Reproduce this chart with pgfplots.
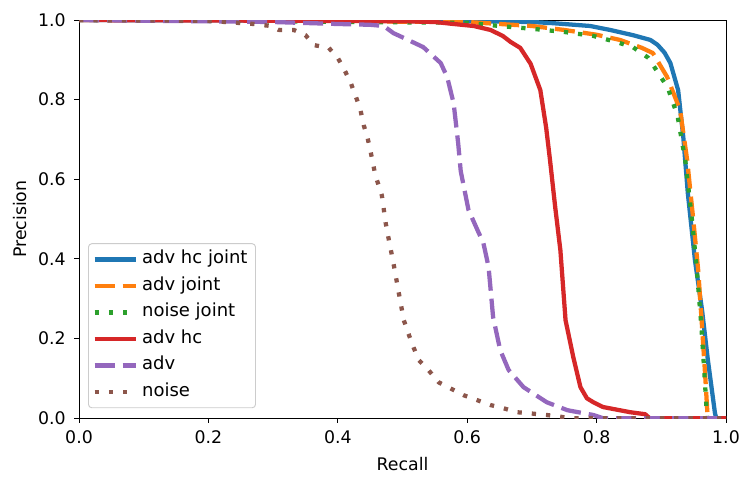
\documentclass[border=0pt]{standalone}
\usepackage{fontspec}
\setmainfont{DejaVu Sans}
\usepackage{pgfplots}
\pgfplotsset{compat=1.18}

\definecolor{tabblue}{HTML}{1F77B4}
\definecolor{taborange}{HTML}{FF7F0E}
\definecolor{tabgreen}{HTML}{2CA02C}
\definecolor{tabred}{HTML}{D62728}
\definecolor{tabpurple}{HTML}{9467BD}
\definecolor{tabbrown}{HTML}{8C564B}

\begin{document}
\fontsize{13}{15}\selectfont
\begin{tikzpicture}
\begin{axis}[
    scale only axis,
    width=485pt, height=298.5pt,
    xmin=0, xmax=1, ymin=0, ymax=1,
    xtick={0,0.2,...,1}, ytick={0,0.2,...,1},
    tick align=outside, tick pos=left,
    major tick length=3.5pt,
    tick style={black, line width=0.7pt},
    axis line style={line width=0.7pt},
    /pgf/number format/assume math mode=true,
    /pgf/number format/fixed,
    /pgf/number format/fixed zerofill,
    /pgf/number format/precision=1,
    yticklabel style={xshift=-2pt},
    xticklabel style={yshift=-1pt},
    xlabel={Recall}, ylabel={Precision},
    every axis x label/.style={at={(axis description cs:0.5,-0.1156)}, anchor=center},
    every axis y label/.style={at={(axis description cs:-0.0907,0.5)}, rotate=90, anchor=center},
    legend cell align=left,
    legend style={at={(0.0139,0.025)}, anchor=south west,
        draw=black!20, rounded corners=2.5pt, line width=0.7pt,
        inner xsep=3pt, inner ysep=4.5pt,
        row sep=5.4pt,
        font=\fontsize{13.5}{16}\selectfont,
        nodes={inner ysep=1pt, inner xsep=3pt, text height=9.5pt, text depth=3pt}},
    legend image code/.code={
        \draw[#1] (0pt,0pt) -- (31pt,0pt);},
    every axis plot/.append style={line join=round},
]
% adv hc joint
\addplot[tabblue, line width=3.2pt] coordinates {
(0,1) (0.5,0.998) (0.6,0.997) (0.7,0.995) (0.733,0.992) (0.79,0.985)
(0.821,0.975) (0.856,0.962) (0.883,0.95) (0.894,0.938) (0.905,0.918)
(0.914,0.892) (0.926,0.824) (0.934,0.706) (0.941,0.565) (0.952,0.397)
(0.963,0.271) (0.972,0.146) (0.983,0.012) (0.985,0) (1,0)};
\addlegendentry{adv hc joint}
% adv joint
\addplot[taborange, line width=3.2pt, dash pattern=on 15pt off 6pt] coordinates {
(0,1) (0.6,0.995) (0.65,0.99) (0.7,0.985) (0.75,0.975) (0.8,0.963)
(0.836,0.95) (0.87,0.93) (0.887,0.917) (0.909,0.857) (0.929,0.774)
(0.94,0.648) (0.949,0.505) (0.957,0.372) (0.963,0.229) (0.968,0.103)
(0.971,0.02) (0.972,0) (1,0)};
\addlegendentry{adv joint}
% noise joint
\addplot[tabgreen, line width=3.2pt, dash pattern=on 3.2pt off 7.5pt] coordinates {
(0,1) (0.6,0.993) (0.65,0.985) (0.7,0.978) (0.75,0.97) (0.795,0.96)
(0.83,0.945) (0.856,0.932) (0.88,0.905) (0.91,0.83) (0.925,0.76)
(0.937,0.648) (0.947,0.505) (0.955,0.372) (0.962,0.229) (0.967,0.103)
(0.97,0.02) (0.971,0) (1,0)};
\addlegendentry{noise joint}
% adv hc
\addplot[tabred, line width=3.2pt] coordinates {
(0,1) (0.5,0.997) (0.55,0.995) (0.579,0.99) (0.61,0.985) (0.636,0.975)
(0.655,0.96) (0.667,0.945) (0.682,0.93) (0.698,0.89) (0.713,0.824)
(0.722,0.73) (0.728,0.648) (0.736,0.53) (0.744,0.422) (0.752,0.246)
(0.764,0.153) (0.775,0.078) (0.785,0.05) (0.795,0.04) (0.81,0.028)
(0.852,0.015) (0.875,0.01) (0.882,0) (1,0)};
\addlegendentry{adv hc}
% adv
\addplot[tabpurple, line width=3.2pt, dash pattern=on 15pt off 6pt] coordinates {
(0,1) (0.3,0.995) (0.4,0.99) (0.45,0.988) (0.471,0.985) (0.486,0.967)
(0.502,0.955) (0.532,0.932) (0.559,0.892) (0.569,0.857) (0.579,0.791)
(0.586,0.691) (0.59,0.62) (0.602,0.523) (0.616,0.472) (0.625,0.44)
(0.633,0.38) (0.64,0.254) (0.651,0.171) (0.664,0.121) (0.687,0.078)
(0.723,0.04) (0.755,0.02) (0.795,0.008) (0.81,0) (1,0)};
\addlegendentry{adv}
% noise
\addplot[tabbrown, line width=3.2pt, dash pattern=on 3.2pt off 7.5pt] coordinates {
(0,1) (0.2,0.998) (0.27,0.99) (0.296,0.985) (0.309,0.975) (0.332,0.975)
(0.35,0.962) (0.363,0.937) (0.386,0.93) (0.4,0.905) (0.412,0.869)
(0.42,0.842) (0.428,0.807) (0.435,0.774) (0.44,0.736) (0.446,0.704)
(0.451,0.667) (0.458,0.61) (0.468,0.56) (0.474,0.49) (0.478,0.455)
(0.486,0.389) (0.494,0.317) (0.502,0.246) (0.509,0.213) (0.517,0.178)
(0.525,0.146) (0.54,0.121) (0.556,0.09) (0.574,0.075) (0.594,0.058)
(0.616,0.045) (0.636,0.033) (0.656,0.025) (0.677,0.015) (0.698,0.012)
(0.723,0.008) (0.747,0.003) (0.76,0) (1,0)};
\addlegendentry{noise}
\end{axis}
\pgfresetboundingbox
\path[use as bounding box] ([shift={(-59.25pt,-51pt)}]current axis.south west)
    rectangle ([shift={(16.5pt,15pt)}]current axis.north east);
\end{tikzpicture}
\end{document}
